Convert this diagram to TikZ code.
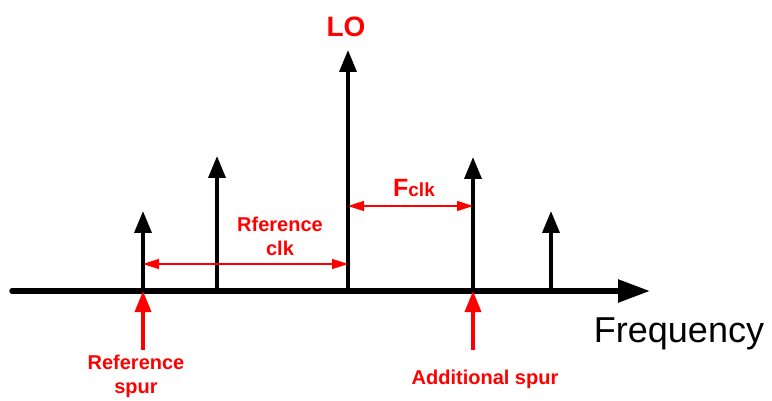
\documentclass[tikz,border=0pt]{standalone}
\usepackage{fontspec}
\setmainfont{Liberation Sans}
\usetikzlibrary{arrows.meta}
\tikzset{
  spur/.style={line width=3.6pt, -{Triangle[length=22pt,width=17pt]}},
  axis/.style={line width=5.5pt, line cap=round, -{Triangle[length=32pt,width=22pt]}},
  marker/.style={red, line width=3.4pt, -{Triangle[length=21pt,width=16pt]}},
  span/.style={red, line width=1.6pt, {Triangle[length=16pt,width=10pt]}-{Triangle[length=16pt,width=10pt]}},
  lbl/.style={red, font=\fontsize{20}{23}\selectfont\bfseries, align=center, inner sep=0pt},
}
\begin{document}
\begin{tikzpicture}[x=1pt, y=-1pt]
\useasboundingbox (0,0) rectangle (772,401);
% frequency axis
\coordinate (a0) at (12,291);
\coordinate (a1) at (650,291);
% spur bases and tops
\coordinate (b1) at (143,291); \coordinate (t1) at (143,211);
\coordinate (b2) at (217,291); \coordinate (t2) at (217,156);
\coordinate (b3) at (348,291); \coordinate (t3) at (348,50);
\coordinate (b4) at (473,291); \coordinate (t4) at (473,157);
\coordinate (b5) at (551,291); \coordinate (t5) at (551,211);
\draw[axis] (a0) -- (a1);
\foreach \i in {1,...,5} \draw[spur] (b\i) -- (t\i);
% spacing markers
\coordinate (r1) at (143,264); \coordinate (r2) at (348,264);
\coordinate (f1) at (348,206); \coordinate (f2) at (473,206);
\draw[span] (r1) -- (r2);
\draw[span] (f1) -- (f2);
% spur pointers
\coordinate (p1) at (143,350); \coordinate (p2) at (473,350);
\draw[marker] (p1) -- (b1);
\draw[marker] (p2) -- (b4);
% labels
\node[lbl, font=\fontsize{28}{30}\selectfont\bfseries] (lo) at (346,27) {LO};
\node[lbl, anchor=base] (fclk) at (414,197) {\fontsize{25}{28}\selectfont F\fontsize{19}{22}\selectfont clk};
\node[lbl] (rclk) at (280,236) {Rference\\[1pt]clk};
\node[lbl] (rspur) at (136,376) {Reference\\[1pt]spur};
\node[lbl] (aspur) at (485,379) {Additional spur};
\node[font=\fontsize{36}{40}\selectfont, inner sep=0pt] (freq) at (679,334) {Frequency};
\end{tikzpicture}
\end{document}
